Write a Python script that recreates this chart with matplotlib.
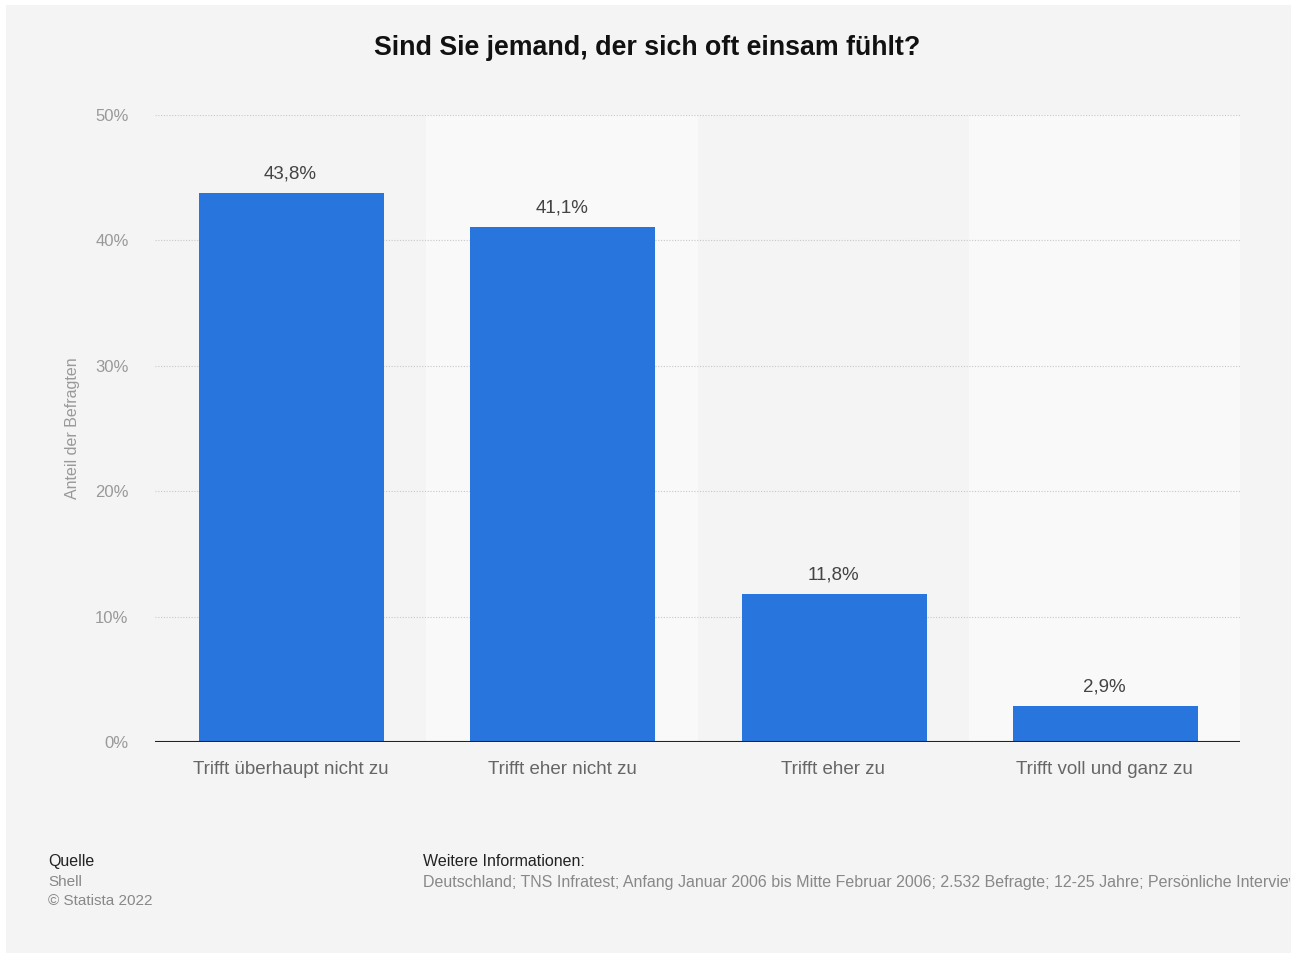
import matplotlib.pyplot as plt
import matplotlib.patches as mpatches
import numpy as np

plt.rcParams['font.family'] = ['Liberation Sans', 'DejaVu Sans']

# data
kategorien = ['Trifft überhaupt nicht zu', 'Trifft eher nicht zu', 'Trifft eher zu', 'Trifft voll und ganz zu']
werte = [43.8, 41.1, 11.8, 2.9]
wert_labels = ['43,8%', '41,1%', '11,8%', '2,9%']
y_ticks = [0, 10, 20, 30, 40, 50]
y_tick_labels = ['0%', '10%', '20%', '30%', '40%', '50%']

W, H = 1298, 955
fig = plt.figure(figsize=(W / 100, H / 100), dpi=100)
fig.patch.set_facecolor('white')

# grey panel behind everything
fig.patches.append(mpatches.Rectangle((6 / W, 1 - 953 / H), (1291 - 6) / W, (953 - 5) / H,
                                      transform=fig.transFigure, facecolor='#f4f4f4',
                                      edgecolor='none', zorder=-1))

ax = fig.add_axes([155 / W, 1 - 742 / H, (1240 - 155) / W, (742 - 115) / H])
ax.set_facecolor('none')
ax.set_zorder(2)

x = np.arange(len(kategorien))
# alternating column background
for i in x:
    ax.axvspan(i - 0.5, i + 0.5, color='#f4f4f4' if i % 2 == 0 else '#f9f9f9', zorder=0, lw=0)

for t in y_ticks[1:]:
    ax.axhline(t, color='#c8c8c8', lw=0.8, ls=(0, (1, 1.5)), zorder=1)

ax.bar(x + 0.004, werte, width=0.682, color='#2876dd', zorder=2)
for xi, v, lab in zip(x, werte, wert_labels):
    ax.text(xi, v + 0.8, lab, ha='center', va='bottom', fontsize=13.5, color='#444444')

ax.axhline(0, color='#222222', lw=1.5, zorder=3)

ax.set_xlim(-0.5, len(kategorien) - 0.5)
ax.set_ylim(0, 50)
ax.set_xticks(x)
ax.set_xticklabels(kategorien, fontsize=13.5, color='#666666')
ax.set_yticks(y_ticks)
ax.set_yticklabels(y_tick_labels, fontsize=12, color='#999999')
ax.tick_params(axis='both', length=0)
ax.tick_params(axis='x', pad=14)
ax.tick_params(axis='y', pad=19)
for s in ax.spines.values():
    s.set_visible(False)

fig.text(73 / W, 1 - 428 / H, 'Anteil der Befragten', rotation=90, ha='center', va='center',
         fontsize=11.5, color='#999999')

fig.text(647 / W, 1 - 48 / H, 'Sind Sie jemand, der sich oft einsam fühlt?', ha='center', va='center',
         fontsize=19.3, fontweight='bold', color='#111111')

# footer
fig.text(48 / W, 1 - 861 / H, 'Quelle', ha='left', va='center', fontsize=11.5, color='#222222')
fig.text(48 / W, 1 - 882 / H, 'Shell', ha='left', va='center', fontsize=11, color='#888888')
fig.text(48 / W, 1 - 901 / H, '© Statista 2022', ha='left', va='center', fontsize=11, color='#888888')
fig.text(423 / W, 1 - 861 / H, 'Weitere Informationen:', ha='left', va='center', fontsize=11.5,
         color='#222222')
info = fig.text(423 / W, 1 - 882 / H,
                'Deutschland; TNS Infratest; Anfang Januar 2006 bis Mitte Februar 2006; 2.532 Befragte; '
                '12-25 Jahre; Persönliche Interviews',
                ha='left', va='center', fontsize=11.5, color='#888888')
clip = mpatches.Rectangle((0, 0), 1290 / W, 1, transform=fig.transFigure, visible=False)
fig.patches.append(clip)
info.set_clip_path(clip)

fig.savefig('out.png', dpi=100, facecolor=fig.get_facecolor())
